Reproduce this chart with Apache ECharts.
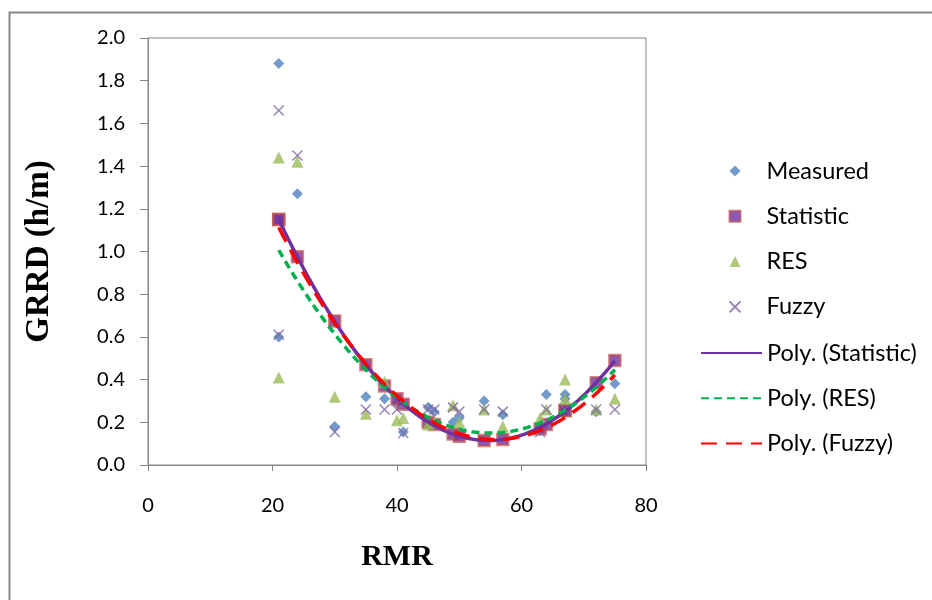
<!DOCTYPE html>
<html>
<head>
<meta charset="utf-8">
<script src="https://cdn.jsdelivr.net/npm/echarts@6/dist/echarts.min.js"></script>
<style>
html,body{margin:0;padding:0;background:#fff;}
#chart{width:932px;height:600px;}
</style>
</head>
<body>
<div id="chart"></div>
<script>
// RMR values (x)
var rmr       = [21,   21,   24,   30,   35,   38,   40,   41,   45,   46,   49,   50,   54,   57,   63,   64,   67,   67,   72,   75];
var measured  = [1.88, 0.60, 1.27, 0.18, 0.32, 0.31, 0.29, 0.155,0.27, 0.25, 0.20, 0.22, 0.30, 0.235,0.16, 0.33, 0.33, 0.31, 0.25, 0.38];
var statistic = [1.15, 1.15, 0.975,0.675,0.47, 0.37, 0.31, 0.285,0.20, 0.19, 0.145,0.135,0.115,0.12, 0.17, 0.19, 0.255,0.255,0.385,0.49];
var res       = [1.44, 0.41, 1.42, 0.32, 0.24, 0.39, 0.21, 0.22, 0.19, 0.20, 0.28, 0.20, 0.26, 0.18, 0.22, 0.26, 0.40, 0.31, 0.26, 0.31];
var fuzzy     = [1.66, 0.61, 1.45, 0.155,0.26, 0.26, 0.26, 0.15, 0.26, 0.26, 0.27, 0.25, 0.26, 0.25, 0.155,0.26, 0.26, 0.26, 0.26, 0.26];

var seriesNames = ['Measured','Statistic','RES','Fuzzy','Poly. (Statistic)','Poly. (RES)','Poly. (Fuzzy)'];
var xTicks = {min:0, max:80, interval:20};
var yTicks = {min:0, max:2.0, interval:0.2};

function pairs(xs, ys){ return xs.map(function(x,i){ return [x, ys[i]]; }); }

// quadratic least squares trend (like Excel polynomial trendline, order 2)
function polyFit2(xs, ys){
  var n=xs.length, s=[0,0,0,0,0], t=[0,0,0];
  for(var i=0;i<n;i++){
    var x=xs[i], y=ys[i], p=1;
    for(var k=0;k<5;k++){ s[k]+=p; if(k<3) t[k]+=p*y; p*=x; }
  }
  var A=[[s[0],s[1],s[2],t[0]],[s[1],s[2],s[3],t[1]],[s[2],s[3],s[4],t[2]]];
  for(var c=0;c<3;c++){
    for(var r=c+1;r<3;r++){
      var f=A[r][c]/A[c][c];
      for(var k=c;k<4;k++) A[r][k]-=f*A[c][k];
    }
  }
  var b=[0,0,0];
  for(var r=2;r>=0;r--){
    var v=A[r][3];
    for(var k=r+1;k<3;k++) v-=A[r][k]*b[k];
    b[r]=v/A[r][r];
  }
  return b;
}
function trend(xs, ys){
  var b=polyFit2(xs, ys), out=[];
  var x0=Math.min.apply(null,xs), x1=Math.max.apply(null,xs);
  for(var x=x0;x<=x1+1e-9;x+=0.5){ out.push([x, b[0]+b[1]*x+b[2]*x*x]); }
  return out;
}

var FONT = 'Lato';
var axisGray = '#868686';
var xMark = 'path://M0,0 L10,10 M10,0 L0,10';
var legendText = {fontFamily:FONT, fontSize:23.5, lineHeight:22, color:'#000'};

var chart = echarts.init(document.getElementById('chart'), null, {renderer:'canvas'});
chart.setOption({
  backgroundColor:'#fff',
  animation:false,
  graphic:[{
    type:'rect', left:7, top:10, z:-10,
    shape:{width:1000, height:700},
    style:{fill:'none', stroke:axisGray, lineWidth:2}
  }],
  grid:{left:148, right:286, top:38, bottom:135, show:true, borderColor:axisGray, borderWidth:1, backgroundColor:'transparent'},
  xAxis:{
    type:'value', min:xTicks.min, max:xTicks.max, interval:xTicks.interval,
    name:'RMR', nameLocation:'middle', nameGap:77,
    nameTextStyle:{fontFamily:'Liberation Serif', fontWeight:'bold', fontSize:30, color:'#000'},
    axisLine:{show:true, onZero:false, lineStyle:{color:axisGray, width:1}},
    axisTick:{show:true, inside:false, length:6, lineStyle:{color:axisGray}},
    axisLabel:{margin:31, fontFamily:FONT, fontSize:20, color:'#000'},
    splitLine:{show:false}
  },
  yAxis:{
    type:'value', min:yTicks.min, max:yTicks.max, interval:yTicks.interval,
    name:'GRRD (h/m)', nameLocation:'middle', nameGap:92,
    nameTextStyle:{fontFamily:'Liberation Serif', fontWeight:'bold', fontSize:33, color:'#000'},
    axisLine:{show:true, onZero:false, lineStyle:{color:axisGray, width:1}},
    axisTick:{show:true, inside:false, length:8, lineStyle:{color:axisGray}},
    axisLabel:{margin:23, fontFamily:FONT, fontSize:20, color:'#000', formatter:function(v){return v.toFixed(1);}},
    splitLine:{show:false}
  },
  legend:[{
    orient:'vertical', left:722, top:154, itemWidth:11, itemHeight:11, itemGap:21.3,
    textStyle:Object.assign({padding:[0,0,0,21]}, legendText),
    data:seriesNames.slice(0,4)
  },{
    orient:'vertical', left:695, top:336, itemWidth:61, itemHeight:11, itemGap:21.3,
    itemStyle:{opacity:0},
    textStyle:legendText,
    data:seriesNames.slice(4)
  }],
  series:[
    {name:seriesNames[0], type:'scatter', symbol:'diamond', symbolSize:11, data:pairs(rmr, measured),
     itemStyle:{color:'#4F81BD'}},
    {name:seriesNames[1], type:'scatter', symbol:'rect', symbolSize:11, data:pairs(rmr, statistic),
     itemStyle:{color:'#7030A0', borderColor:'rgba(192,80,77,0.85)', borderWidth:2.5}},
    {name:seriesNames[2], type:'scatter', symbol:'triangle', symbolSize:12, data:pairs(rmr, res),
     itemStyle:{color:'#9BBB59'}},
    {name:seriesNames[3], type:'scatter', symbol:xMark, symbolSize:10, data:pairs(rmr, fuzzy),
     itemStyle:{color:'none', borderColor:'#8064A2', borderWidth:1.5}},
    {name:seriesNames[4], type:'line', showSymbol:false, symbol:'none', data:trend(rmr, statistic),
     lineStyle:{color:'#7030A0', width:3.5}, itemStyle:{color:'#7030A0'}},
    {name:seriesNames[5], type:'line', showSymbol:false, symbol:'none', data:trend(rmr, res),
     lineStyle:{color:'#00B050', width:3.5, type:[8,5]}, itemStyle:{color:'#00B050'}},
    {name:seriesNames[6], type:'line', showSymbol:false, symbol:'none', data:trend(rmr, fuzzy),
     lineStyle:{color:'#FF0000', width:3.5, type:[16,9]}, itemStyle:{color:'#FF0000'}}
  ]
});
</script>
</body>
</html>
